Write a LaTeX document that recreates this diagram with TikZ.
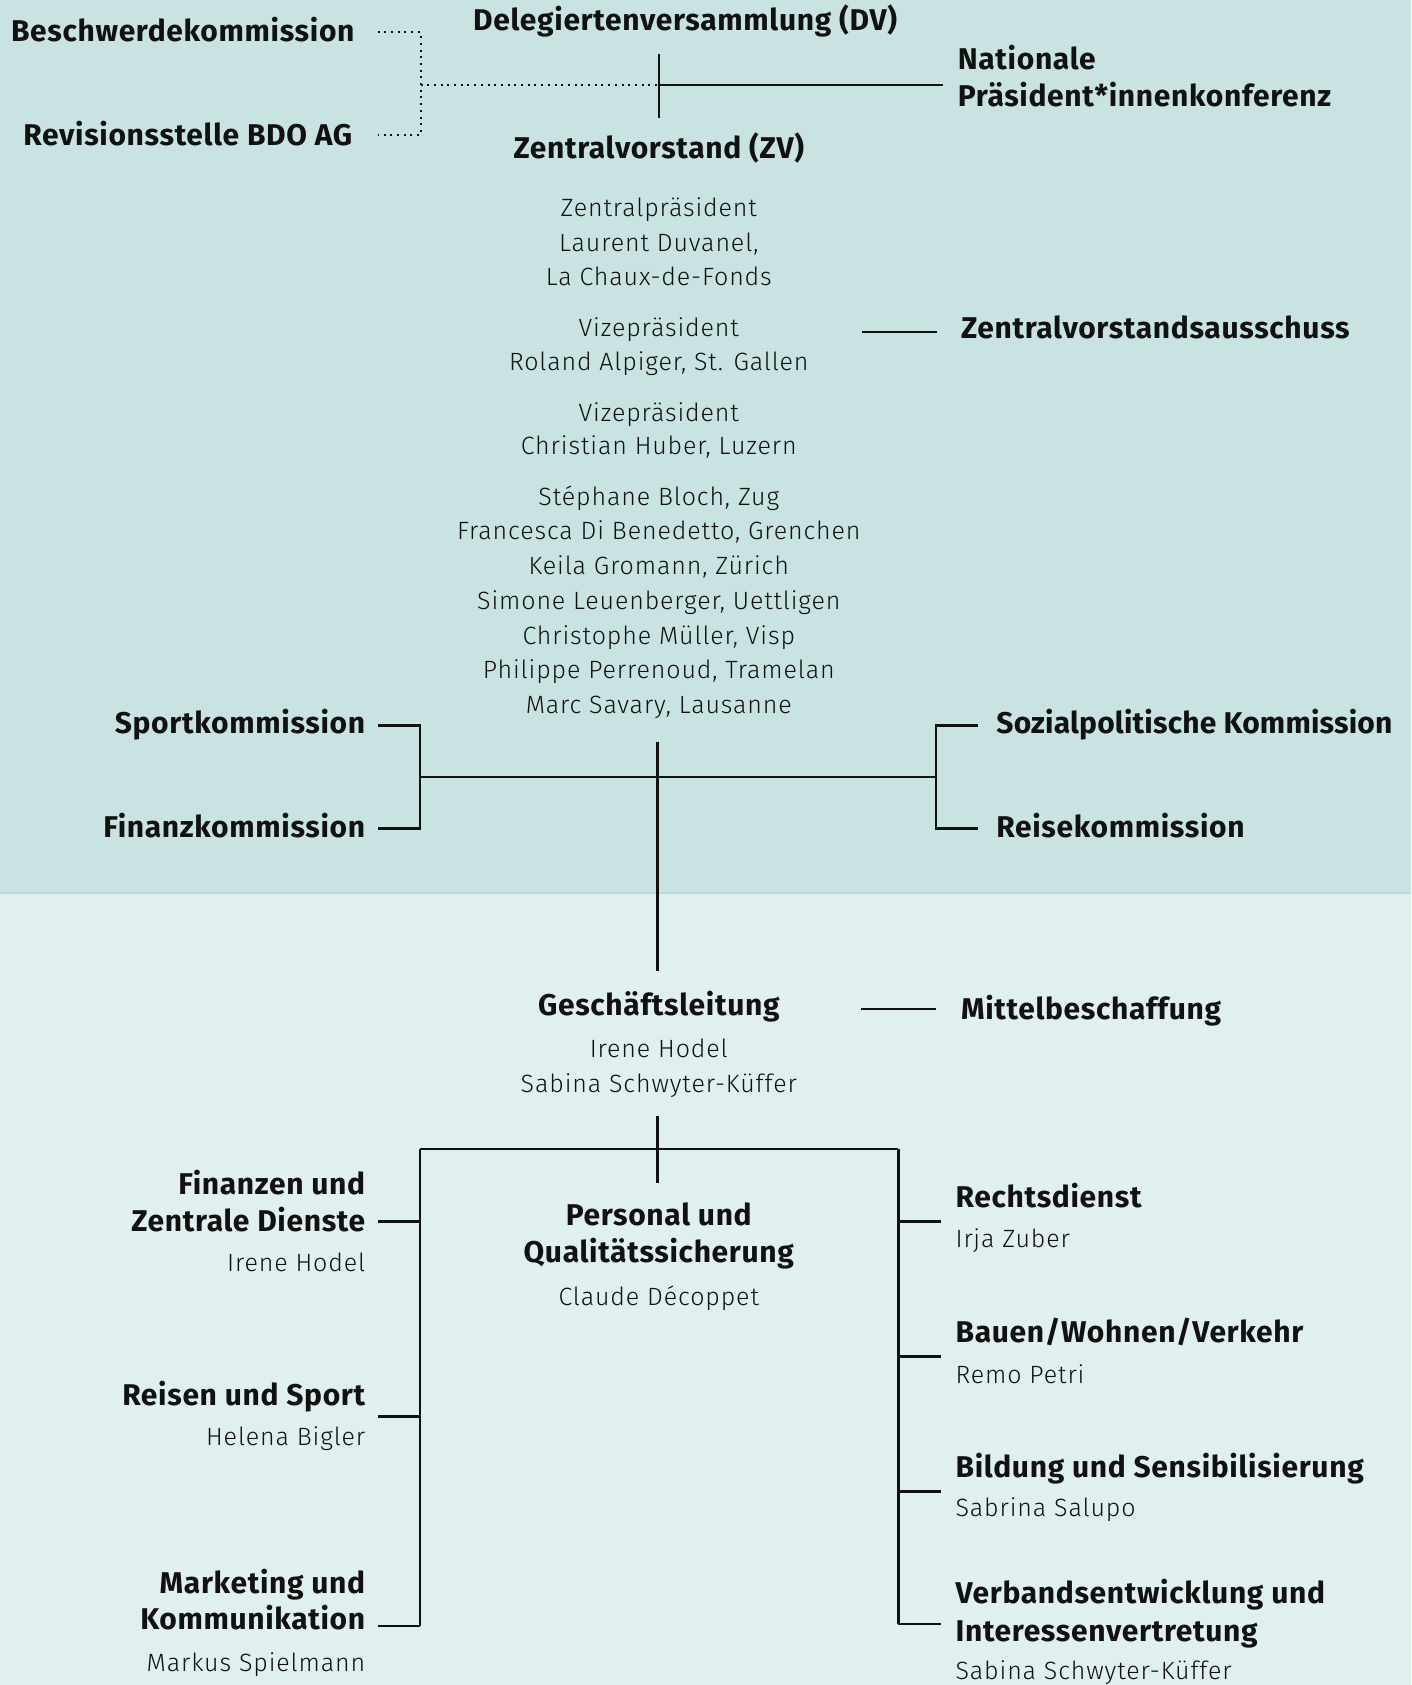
\documentclass[tikz,border=0pt]{standalone}
\usepackage{fontspec}
\setmainfont{Fira Sans}
\newfontfamily\bfontf{Fira Sans}[LetterSpace=2.2]
\newfontfamily\bfonttight{Fira Sans}[LetterSpace=0.6]
\newfontfamily\lfont{Fira Sans Light}[LetterSpace=3.5]
\definecolor{topbg}{RGB}{201,227,226}
\definecolor{botbg}{RGB}{224,239,239}
\definecolor{sep}{RGB}{184,218,216}
\definecolor{ink}{RGB}{17,17,17}
\tikzset{
  bt/.style={font=\bfontf\bfseries\fontsize{30}{35}\selectfont, inner sep=0pt, text=ink},
  btt/.style={bt, font=\bfonttight\bfseries\fontsize{30}{35}\selectfont},
  lt/.style={font=\lfont\fontsize{25}{35}\selectfont, inner sep=0pt, text=ink},
  ln/.style={line width=2.5pt, draw=ink},
  dt/.style={line width=2pt, draw=ink, dash pattern=on 2pt off 4.7pt}
}
\begin{document}
\begin{tikzpicture}[x=1pt,y=-1pt]
\useasboundingbox (0,0) rectangle (1411,1685);
\fill[topbg] (0,0) rectangle (1411,893);
\fill[botbg] (0,893) rectangle (1411,1685);
\draw[sep, line width=1.5pt] (0,893) -- (1411,893);

% ---- top: DV / ZV ----
\node[bt,anchor=base east] (bk) at (354.7,41.7) {Beschwerdekommission};
\node[bt,anchor=base east] (rv) at (352.5,145.4) {Revisionsstelle BDO AG};
\node[bt,anchor=base] (dv) at (685.1,30.4) {Delegiertenversammlung (DV)};
\node[bt,anchor=base west] (np1) at (957.6,69.1) {Nationale};
\node[bt,anchor=base west] (np2) at (957.6,106.7) {Präsident*innenkonferenz};
\node[bt,anchor=base] (zv) at (658.8,158.3) {Zentralvorstand (ZV)};

\coordinate (bkend) at (377.5,32.3);
\coordinate (rvend) at (377.5,135.2);
\coordinate (dtop) at (420.5,32.3);
\coordinate (dbot) at (420.5,135.2);
\coordinate (dj) at (420.5,84.9);
\coordinate (dvx) at (658.8,84.9);
\coordinate (dvbar) at (658.8,53.7);
\coordinate (zvbar) at (658.8,118.2);
\coordinate (npend) at (942.5,84.9);

\draw[dt] (bkend) -- (dtop) -- (dbot) -- (rvend);
\draw[dt] (dj) -- (dvx);
\draw[ln] (dvbar) -- (zvbar);
\draw[ln] (dvx) -- (npend);

% ---- ZV members ----
\node[lt,anchor=base] (zp1) at (658.8,217.0) {Zentralpräsident};
\node[lt,anchor=base] (zp2) at (658.8,251.4) {Laurent Duvanel,};
\node[lt,anchor=base] (zp3) at (658.8,285.8) {La Chaux-de-Fonds};
\node[lt,anchor=base] (vp1) at (658.8,336.3) {Vizepräsident};
\node[lt,anchor=base] (vp2) at (658.8,370.7) {Roland Alpiger, St. Gallen};
\node[lt,anchor=base] (vq1) at (658.8,421.2) {Vizepräsident};
\node[lt,anchor=base] (vq2) at (658.8,454.5) {Christian Huber, Luzern};
\foreach \t [count=\i] in {{Stéphane Bloch, Zug},{Francesca Di Benedetto, Grenchen},{Keila Gromann, Zürich},{Simone Leuenberger, Uettligen},{Christophe Müller, Visp},{Philippe Perrenoud, Tramelan},{Marc Savary, Lausanne}}
  \node[lt,anchor=base] (m\i) at (658.8,505.0+34.75*\i-34.75) {\t};

\node[bt,anchor=base west] (zva) at (960.8,338.9) {Zentralvorstandsausschuss};
\coordinate (zval) at (861.9,332.1);
\coordinate (zvar) at (937.1,332.1);
\draw[ln] (zval) -- (zvar);

% ---- commissions ----
\node[bt,anchor=base east] (sk) at (365.4,733.3) {Sportkommission};
\node[bt,anchor=base east] (fk) at (365.4,837.5) {Finanzkommission};
\node[btt,anchor=base west] (spk) at (996.2,733.3) {Sozialpolitische Kommission};
\node[bt,anchor=base west] (rk) at (996.2,837.5) {Reisekommission};

\coordinate (ske) at (378.3,725.4);
\coordinate (fke) at (378.3,828.6);
\coordinate (lbt) at (420.2,725.4);
\coordinate (lbb) at (420.2,828.6);
\coordinate (lbm) at (420.2,777.0);
\coordinate (rbt) at (936.1,725.4);
\coordinate (rbb) at (936.1,828.6);
\coordinate (rbm) at (936.1,777.0);
\coordinate (spke) at (978.0,725.4);
\coordinate (rke) at (978.0,828.6);
\coordinate (vtop) at (657.7,741.5);
\coordinate (vbot) at (657.7,970.5);

\draw[ln] (ske) -- (lbt) -- (lbb) -- (fke);
\draw[ln] (spke) -- (rbt) -- (rbb) -- (rke);
\draw[ln] (lbm) -- (rbm);
\draw[ln] (vtop) -- (vbot);

% ---- Geschäftsleitung ----
\node[bt,anchor=base] (gl) at (658.8,1015.9) {Geschäftsleitung};
\node[lt,anchor=base] (gl1) at (658.8,1057.4) {Irene Hodel};
\node[lt,anchor=base] (gl2) at (658.8,1092.9) {Sabina Schwyter-Küffer};
\node[bt,anchor=base west] (mb) at (960.8,1019.1) {Mittelbeschaffung};
\coordinate (mbl) at (860.8,1009.1);
\coordinate (mbr) at (936.1,1009.1);
\draw[ln] (mbl) -- (mbr);

\coordinate (gtop) at (657.7,1115.5);
\coordinate (gbot) at (657.7,1183.2);
\coordinate (hl) at (420.2,1148.9);
\coordinate (hr) at (898.4,1148.9);
\draw[ln] (gtop) -- (gbot);
\draw[ln] (hl) -- (hr);

% left column
\node[bt,anchor=base east] (fz1) at (365.4,1194.8) {Finanzen und};
\node[bt,anchor=base east] (fz2) at (365.4,1231.4) {Zentrale Dienste};
\node[lt,anchor=base east] (fz3) at (365.4,1271.0) {Irene Hodel};
\node[bt,anchor=base east] (rs1) at (365.4,1405.0) {Reisen und Sport};
\node[lt,anchor=base east] (rs2) at (365.4,1445.4) {Helena Bigler};
\node[bt,anchor=base east] (mk1) at (365.4,1593.0) {Marketing und};
\node[bt,anchor=base east] (mk2) at (365.4,1629.6) {Kommunikation};
\node[lt,anchor=base east] (mk3) at (365.4,1671.1) {Markus Spielmann};

\coordinate (lfz) at (378.3,1221.4);
\coordinate (lrs) at (378.3,1416.5);
\coordinate (lmk) at (378.3,1626.0);
\coordinate (lv1) at (420.2,1221.4);
\coordinate (lv2) at (420.2,1416.5);
\coordinate (lv3) at (420.2,1626.0);
\draw[ln] (hl) -- (lv3);
\draw[ln] (lfz) -- (lv1);
\draw[ln] (lrs) -- (lv2);
\draw[ln] (lmk) -- (lv3);

% center column
\node[bt,anchor=base] (pq1) at (658.8,1225.5) {Personal und};
\node[bt,anchor=base] (pq2) at (658.8,1262.0) {Qualitätssicherung};
\node[lt,anchor=base] (pq3) at (658.8,1305.7) {Claude Décoppet};

% right column
\node[bt,anchor=base west] (rd1) at (955.4,1207.0) {Rechtsdienst};
\node[lt,anchor=base west] (rd2) at (955.4,1247.4) {Irja Zuber};
\node[bt,anchor=base west] (bw1) at (955.4,1342.6) {Bauen/Wohnen/Verkehr};
\node[lt,anchor=base west] (bw2) at (955.4,1383.0) {Remo Petri};
\node[bt,anchor=base west] (bs1) at (955.4,1477.0) {Bildung und Sensibilisierung};
\node[lt,anchor=base west] (bs2) at (955.4,1516.3) {Sabrina Salupo};
\node[bt,anchor=base west] (ve1) at (955.4,1603.8) {Verbandsentwicklung und};
\node[bt,anchor=base west] (ve2) at (955.4,1641.4) {Interessenvertretung};
\node[lt,anchor=base west] (ve3) at (955.4,1679.7) {Sabina Schwyter-Küffer};

\coordinate (rv1) at (898.4,1221.4);
\coordinate (rv2) at (898.4,1356.3);
\coordinate (rv3) at (898.4,1491.7);
\coordinate (rv4) at (898.4,1623.9);
\coordinate (rt1) at (941.4,1221.4);
\coordinate (rt2) at (941.4,1356.3);
\coordinate (rt3) at (941.4,1491.7);
\coordinate (rt4) at (941.4,1623.9);
\draw[ln] (hr) -- (rv4);
\draw[ln] (rv1) -- (rt1);
\draw[ln] (rv2) -- (rt2);
\draw[ln] (rv3) -- (rt3);
\draw[ln] (rv4) -- (rt4);
\end{tikzpicture}
\end{document}
